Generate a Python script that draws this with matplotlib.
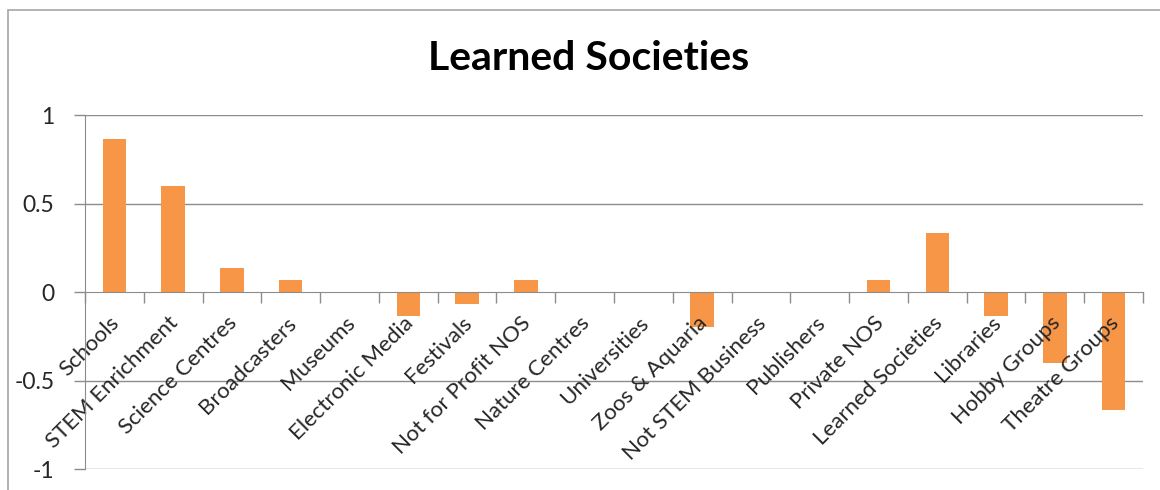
import numpy as np
import matplotlib.pyplot as plt
import matplotlib.transforms as mtransforms
from matplotlib.patches import Rectangle

categories = ['Schools', 'STEM Enrichment', 'Science Centres', 'Broadcasters',
              'Museums', 'Electronic Media', 'Festivals', 'Not for Profit NOS',
              'Nature Centres', 'Universities', 'Zoos & Aquaria',
              'Not STEM Business', 'Publishers', 'Private NOS',
              'Learned Societies', 'Libraries', 'Hobby Groups', 'Theatre Groups']
values = [0.867, 0.6, 0.133, 0.067, 0.0, -0.133, -0.067, 0.067, 0.0, 0.0,
          -0.2, 0.0, 0.0, 0.067, 0.333, -0.133, -0.4, -0.667]
yticks = [-1, -0.5, 0, 0.5, 1]
ytick_labels = ['-1', '-0.5', '0', '0.5', '1']

plt.rcParams['font.family'] = ['Lato', 'DejaVu Sans']

fig = plt.figure(figsize=(11.6, 4.9), dpi=100)
ax = fig.add_axes([85/1160, 1 - 469/490, (1143 - 85)/1160, (469 - 115)/490])

# chart border (cropped on right / bottom)
fig.patches.append(Rectangle((8/1160, -0.1), 1.2, 1 - 10/490 + 0.1,
                             transform=fig.transFigure, fill=False,
                             edgecolor='#a6a6a6', lw=1.2))

x = np.arange(len(categories))
# gridlines by hand so the bars sit over them and the labels sit over the bars
for yv in yticks:
    if yv != 0:
        ax.axhline(yv, color='#8c8c8c', lw=1.0, zorder=0.5)
ax.bar(x, values, width=0.4, color='#f79646', zorder=1)

ax.set_xlim(-0.5, len(categories) - 0.5)
ax.set_ylim(-1, 1)
ax.set_yticks(yticks)
ax.set_yticklabels(ytick_labels)
ax.tick_params(axis='y', length=8, width=1.0, color='#8c8c8c',
               labelsize=16.5, labelcolor='#262626', pad=14)

for s in ['top', 'right']:
    ax.spines[s].set_visible(False)
ax.spines['left'].set_color('#8c8c8c')
ax.spines['bottom'].set_position(('data', 0))
ax.spines['bottom'].set_color('#8c8c8c')

# ticks at category boundaries, labels at centres
ax.set_xticks(np.arange(len(categories) + 1) - 0.5)
ax.set_xticklabels([])
ax.set_xticks(x, minor=True)
ax.set_xticklabels(categories, minor=True, rotation=45, ha='right',
                   va='top', rotation_mode='anchor', fontsize=16,
                   color='#262626')
ax.tick_params(axis='x', which='major', length=8, width=1.0,
               color='#8c8c8c', direction='out')
ax.tick_params(axis='x', which='minor', length=0, pad=15)
offset = mtransforms.ScaledTranslation(-5/100, 0, fig.dpi_scale_trans)
for lbl in ax.get_xticklabels(minor=True):
    lbl.set_transform(lbl.get_transform() + offset)

fig.text(589/1160, 1 - 58/490, 'Learned Societies', ha='center', va='center',
         fontsize=29.5, fontweight='bold', color='black')

fig.savefig('out.png', dpi=100)
